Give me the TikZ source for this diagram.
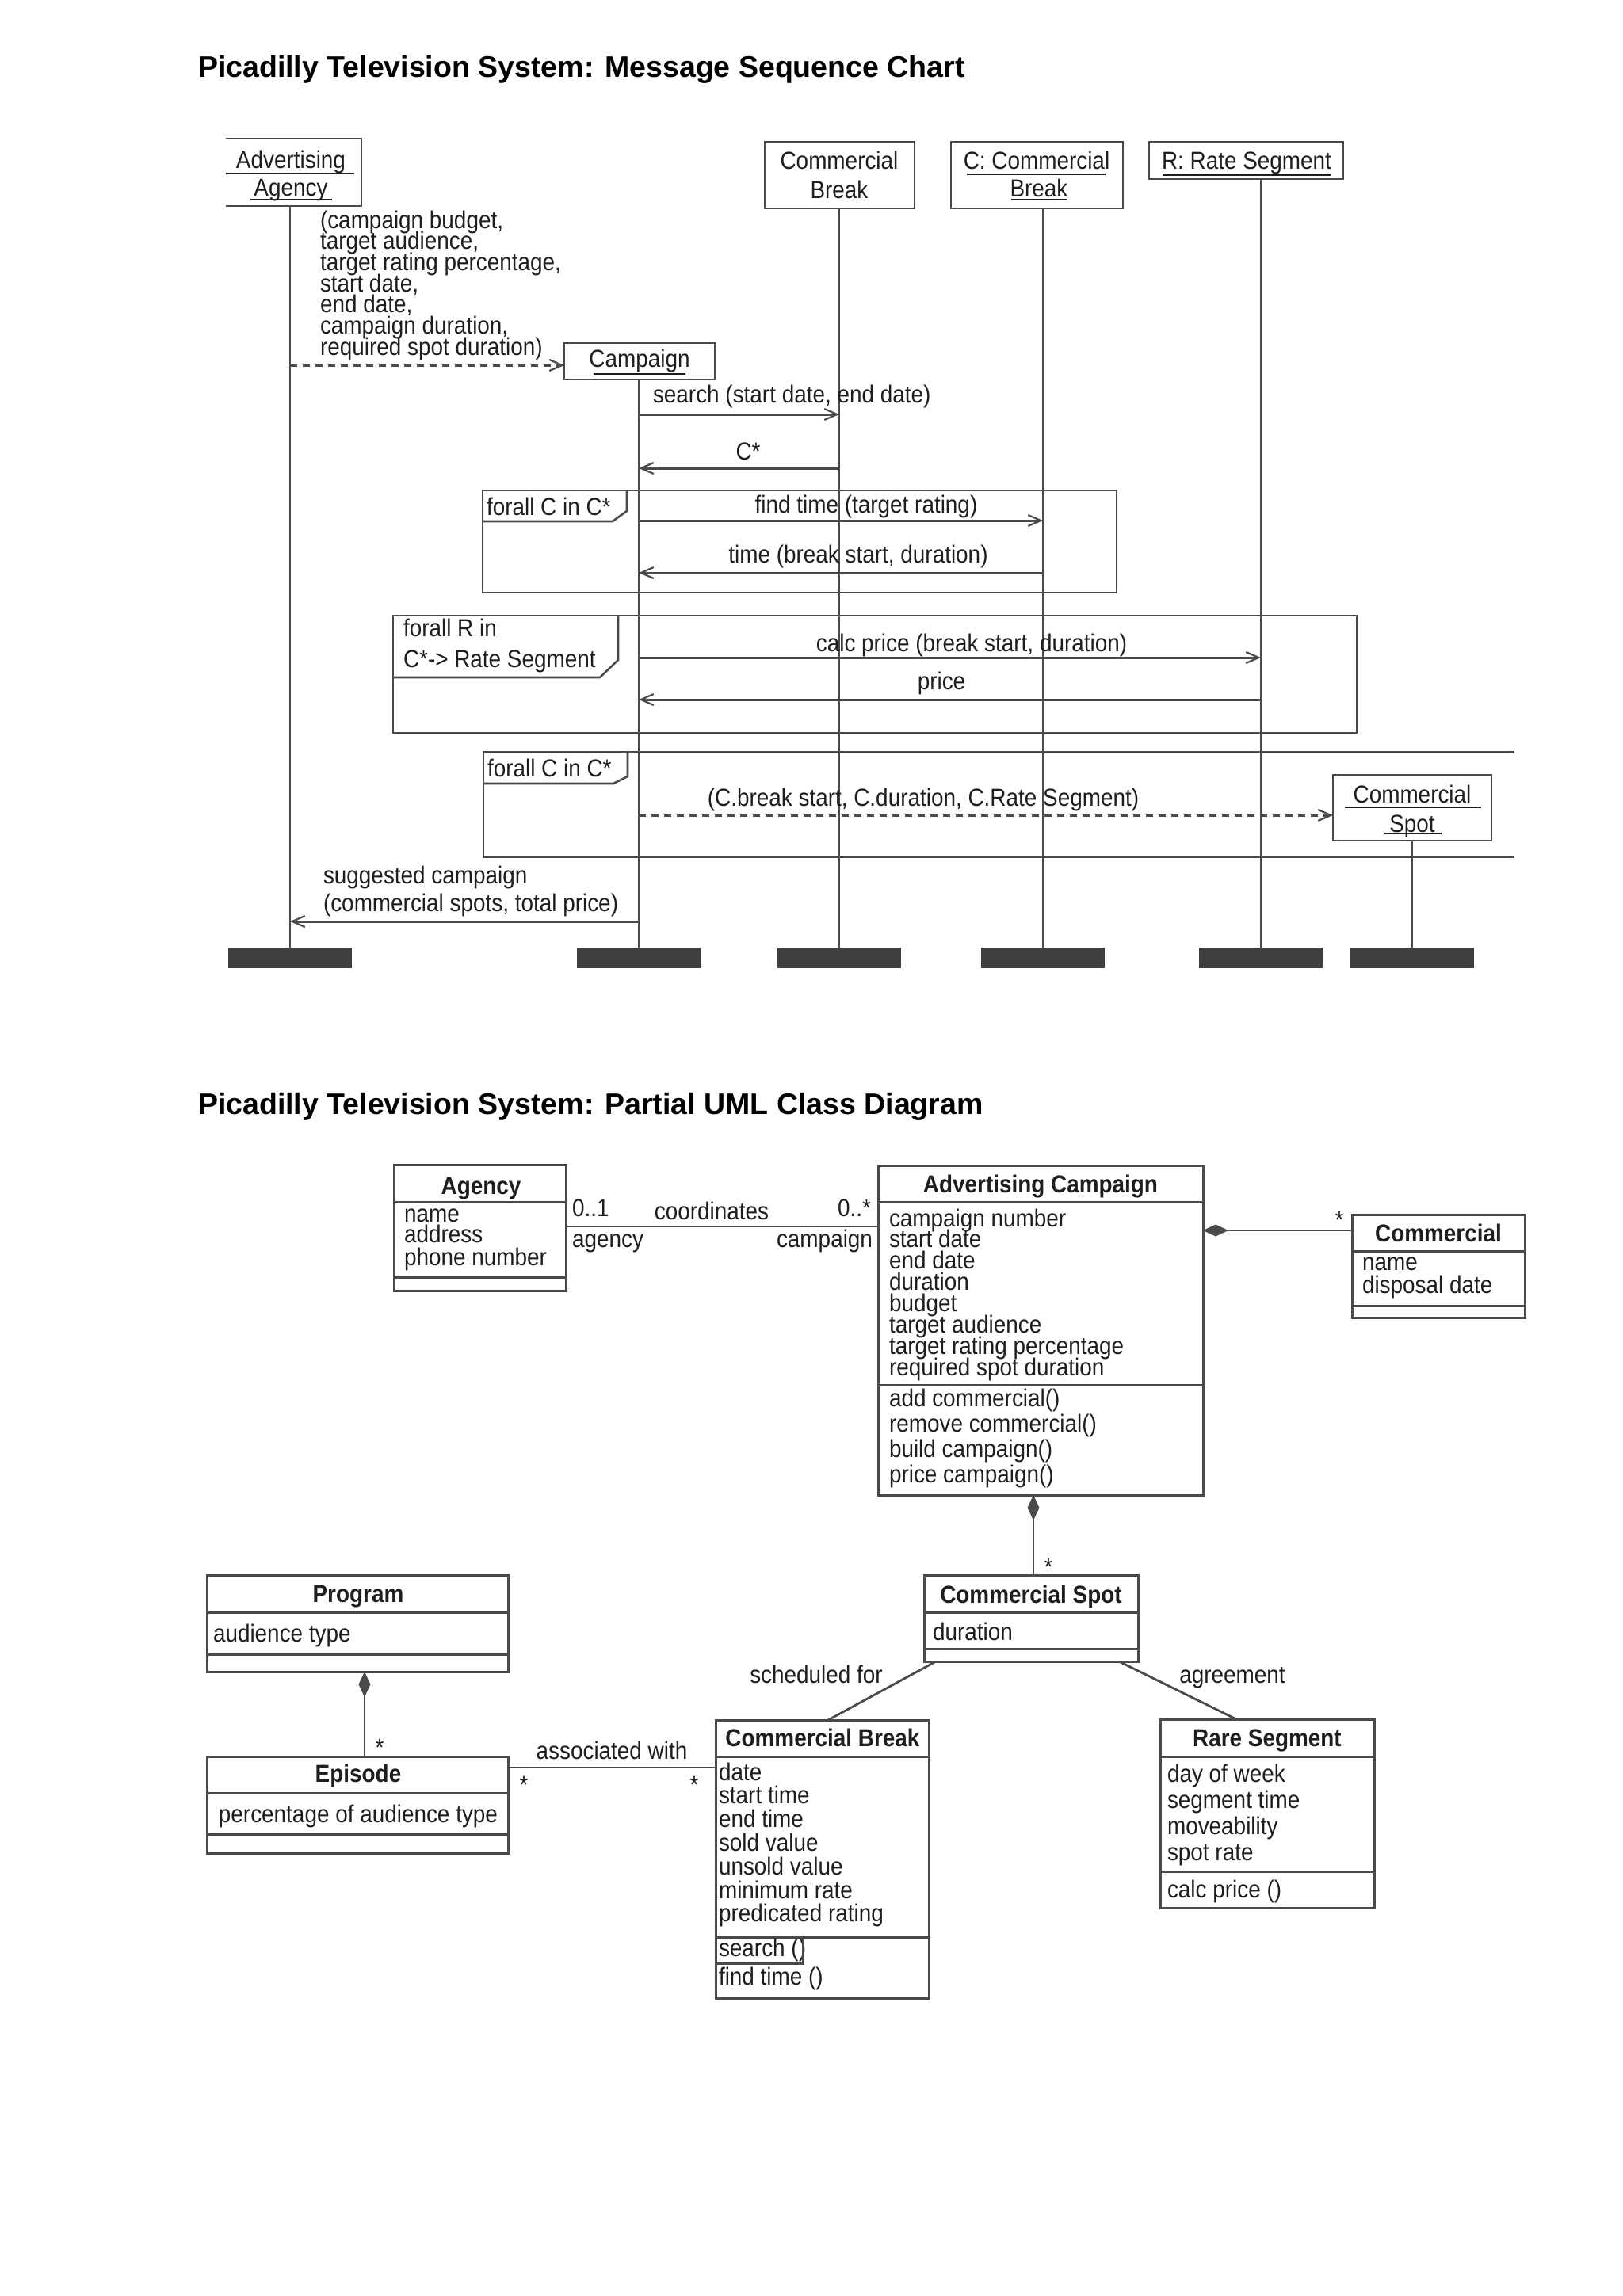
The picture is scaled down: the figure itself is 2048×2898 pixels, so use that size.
\documentclass[tikz,border=0pt]{standalone}
\usepackage{fontspec}
\setmainfont{Liberation Sans}
\newfontfamily\narrowfont[FakeStretch=0.9]{Liberation Sans}
\usetikzlibrary{arrows.meta,fit}
\definecolor{lc}{HTML}{4A4A4A}
\definecolor{txc}{HTML}{1E1E1E}
\definecolor{barc}{HTML}{3E3E3E}
\newcommand\seqfont{\narrowfont\fontsize{15.5pt}{15.5pt}\selectfont}
\newcommand\ttlfont{\fontsize{18.75pt}{20pt}\selectfont\bfseries}
\begin{document}
\begin{tikzpicture}[x=0.5pt,y=-0.5pt,
  tw/.style={inner sep=0pt,outer sep=0pt,font=\seqfont,text=txc,anchor=base west},
  tm/.style={inner sep=0pt,outer sep=0pt,font=\seqfont,text=txc,anchor=base},
  te/.style={inner sep=0pt,outer sep=0pt,font=\seqfont,text=txc,anchor=base east},
  tb/.style={tm,font=\seqfont\bfseries},
  star/.style={inner sep=0pt,outer sep=0pt,font=\seqfont,text=txc,anchor=center},
  ttl/.style={inner sep=0pt,outer sep=0pt,font=\ttlfont,text=black,anchor=base west},
  hbox/.style={draw=lc,line width=1.3pt,inner sep=0pt,outer sep=0pt},
  ghost/.style={inner sep=0pt,outer sep=0pt},
  frm/.style={draw=lc,line width=1.3pt},
  ul/.style={draw=txc,line width=1.1pt},
  life/.style={draw=lc,line width=0.9pt},
  msg/.style={draw=lc,line width=1.5pt,-{Straight Barb[length=8pt,width=7pt,line width=1.1pt]}},
  dmsg/.style={msg,dash pattern=on 4.5pt off 3.5pt},
  barbox/.style={fill=barc,inner sep=0pt,outer sep=0pt},
  cls/.style={draw=lc,line width=1.5pt,inner sep=0pt,outer sep=0pt},
  sep/.style={draw=lc,line width=1.5pt},
  assoc/.style={draw=lc,line width=1.4pt},
  comp/.style={assoc,{Diamond[length=16pt,width=7.5pt]}-}
]
\useasboundingbox (0,0) rectangle (2048,2898);
\fill[white] (0,0) rectangle (2048,2898);

% ---------------- titles
\node[ttl] (title1) at (250,97) {Picadilly Television System: Message Sequence Chart};
\node[ttl] (title2) at (250,1406) {Picadilly Television System: Partial UML Class Diagram};

% ---------------- sequence chart: heads
\node[ghost,fit={(285,175)(456,260)}] (hAg) {};
\draw[frm] (hAg.north west) -- (hAg.north east) -- (hAg.south east) -- (hAg.south west);
\node[tm] (hAg1) at (367,212) {Advertising};
\draw[ul] (285,219) -- (447,219);
\node[tm] (hAg2) at (367,247) {Agency};
\draw[ul] (316,252) -- (419,252);

\node[hbox,fit={(965,179)(1154,263)}] (hCB) {};
\node[tm] (hCB1) at (1059,213) {Commercial};
\node[tm] (hCB2) at (1059,250) {Break};

\node[hbox,fit={(1200,179)(1417,263)}] (hCC) {};
\node[tm] (hCC1) at (1308,213) {C: Commercial};
\draw[ul] (1220,220) -- (1395,220);
\node[tm] (hCC2) at (1311,248) {Break};
\draw[ul] (1276,252) -- (1347,252);

\node[hbox,fit={(1450,179)(1695,226)}] (hR) {};
\node[tm] (hR1) at (1573,213) {R: Rate Segment};
\draw[ul] (1468,221) -- (1679,221);

\node[hbox,fit={(712,433)(902,479)}] (hCamp) {};
\node[tm] (hCamp1) at (807,463) {Campaign};
\draw[ul] (749,472) -- (865,472);

\node[hbox,fit={(1682,978)(1882,1061)}] (hSp) {};
\node[tm] (hSp1) at (1782,1013) {Commercial};
\draw[ul] (1697,1019) -- (1869,1019);
\node[tm] (hSp2) at (1782,1050) {Spot};
\draw[ul] (1747,1052) -- (1819,1052);

% ---------------- end bars
\node[barbox,fit={(288,1196)(444,1222)}] (bAg) {};
\node[barbox,fit={(728,1196)(884,1222)}] (bCamp) {};
\node[barbox,fit={(981,1196)(1137,1222)}] (bCB) {};
\node[barbox,fit={(1238,1196)(1394,1222)}] (bCC) {};
\node[barbox,fit={(1513,1196)(1669,1222)}] (bR) {};
\node[barbox,fit={(1704,1196)(1860,1222)}] (bSp) {};

% ---------------- lifelines
\draw[life] (bAg.north) -- (bAg.north |- hAg.south);
\draw[life] (bCamp.north) -- (bCamp.north |- hCamp.south);
\draw[life] (bCB.north) -- (bCB.north |- hCB.south);
\draw[life] (bCC.north) -- (bCC.north |- hCC.south);
\draw[life] (bR.north) -- (bR.north |- hR.south);
\draw[life] (bSp.north) -- (bSp.north |- hSp.south);

% ---------------- frames
\node[hbox,fit={(609,619)(1409,748)}] (fr1) {};
\draw[frm] (609,658) -- (773,658) -- (791,645) -- (791,619);
\node[tw] (fr1l) at (614,650) {forall C in C*};

\node[hbox,fit={(496,777)(1712,925)}] (fr2) {};
\draw[frm] (496,855) -- (757,855) -- (780,833) -- (780,777);
\node[tw] (fr2l1) at (509,803) {forall R in};
\node[tw] (fr2l2) at (509,842) {C*-> Rate Segment};

\draw[frm] (1911,949) -- (610,949) -- (610,1082) -- (1911,1082);
\draw[frm] (610,989) -- (774,989) -- (792,980) -- (792,949);
\node[tw] (fr3l) at (615,980) {forall C in C*};

% ---------------- messages
\draw[dmsg] (bAg.north |- 0,461) -- (hCamp.west |- 0,461);
\foreach \s [count=\i] in {{(campaign budget,},{target audience,},{target rating percentage,},{start date,},{end date,},{campaign duration,},{required spot duration)}}
  \node[tw] (par\i) at (404,{288+26.67*(\i-1)}) {\s};

\draw[msg] (bCamp.north |- 0,523) -- (bCB.north |- 0,523);
\node[tw] (m1l) at (824,508) {search (start date, end date)};

\draw[msg] (bCB.north |- 0,591) -- (bCamp.north |- 0,591);
\node[tm] (m2l) at (944,580) {C*};

\draw[msg] (bCamp.north |- 0,657) -- (bCC.north |- 0,657);
\node[tm] (m3l) at (1093,647) {find time (target rating)};

\draw[msg] (bCC.north |- 0,723) -- (bCamp.north |- 0,723);
\node[tm] (m4l) at (1083,710) {time (break start, duration)};

\draw[msg] (bCamp.north |- 0,830) -- (bR.north |- 0,830);
\node[tm] (m5l) at (1226,822) {calc price (break start, duration)};

\draw[msg] (bR.north |- 0,883) -- (bCamp.north |- 0,883);
\node[tm] (m6l) at (1188,870) {price};

\draw[dmsg] (bCamp.north |- 0,1029) -- (hSp.west |- 0,1029);
\node[tm] (m7l) at (1165,1017) {(C.break start, C.duration, C.Rate Segment)};

\draw[msg] (bCamp.north |- 0,1163) -- (bAg.north |- 0,1163);
\node[tw] (m8l1) at (408,1115) {suggested campaign};
\node[tw] (m8l2) at (408,1150) {(commercial spots, total price)};

% ---------------- class diagram
% Agency
\node[cls,fit={(497,1470)(714,1629)}] (agC) {};
\draw[sep] (agC.west |- 0,1517) -- (agC.east |- 0,1517);
\draw[sep] (agC.west |- 0,1612) -- (agC.east |- 0,1612);
\node[tb] (agT) at (607,1507) {Agency};
\node[tw] (ag1) at (510,1542) {name};
\node[tw] (ag2) at (510,1568) {address};
\node[tw] (ag3) at (510,1597) {phone number};

% Advertising Campaign
\node[cls,fit={(1108,1471)(1518,1887)}] (acC) {};
\draw[sep] (acC.west |- 0,1517) -- (acC.east |- 0,1517);
\draw[sep] (acC.west |- 0,1748) -- (acC.east |- 0,1748);
\node[tb] (acT) at (1313,1505) {Advertising Campaign};
\foreach \s [count=\i] in {campaign number,start date,end date,duration,budget,target audience,target rating percentage,required spot duration}
  \node[tw] (aca\i) at (1122,{1548+26.9*(\i-1)}) {\s};
\foreach \s [count=\i] in {add commercial(),remove commercial(),build campaign(),price campaign()}
  \node[tw] (acm\i) at (1122,{1775+32.3*(\i-1)}) {\s};

% Commercial
\node[cls,fit={(1706,1533)(1924,1663)}] (coC) {};
\draw[sep] (coC.west |- 0,1579) -- (coC.east |- 0,1579);
\draw[sep] (coC.west |- 0,1648) -- (coC.east |- 0,1648);
\node[tb] (coT) at (1815,1567) {Commercial};
\node[tw] (co1) at (1719,1603) {name};
\node[tw] (co2) at (1719,1632) {disposal date};

% Commercial Spot
\node[cls,fit={(1166,1988)(1436,2097)}] (csC) {};
\draw[sep] (csC.west |- 0,2035) -- (csC.east |- 0,2035);
\draw[sep] (csC.west |- 0,2081) -- (csC.east |- 0,2081);
\node[tb] (csT) at (1301,2023) {Commercial Spot};
\node[tw] (cs1) at (1177,2070) {duration};

% Rare Segment
\node[cls,fit={(1464,2170)(1734,2408)}] (rsC) {};
\draw[sep] (rsC.west |- 0,2217) -- (rsC.east |- 0,2217);
\draw[sep] (rsC.west |- 0,2362) -- (rsC.east |- 0,2362);
\node[tb] (rsT) at (1599,2204) {Rare Segment};
\foreach \s [count=\i] in {day of week,segment time,moveability,spot rate}
  \node[tw] (rsa\i) at (1473,{2249+33*(\i-1)}) {\s};
\node[tw] (rsm1) at (1473,2395) {calc price ()};

% Program
\node[cls,fit={(261,1988)(641,2110)}] (prC) {};
\draw[sep] (prC.west |- 0,2035) -- (prC.east |- 0,2035);
\draw[sep] (prC.west |- 0,2088) -- (prC.east |- 0,2088);
\node[tb] (prT) at (452,2022) {Program};
\node[tw] (pr1) at (269,2072) {audience type};

% Episode
\node[cls,fit={(261,2217)(641,2339)}] (epC) {};
\draw[sep] (epC.west |- 0,2263) -- (epC.east |- 0,2263);
\draw[sep] (epC.west |- 0,2315) -- (epC.east |- 0,2315);
\node[tb] (epT) at (452,2249) {Episode};
\node[tm] (ep1) at (452,2300) {percentage of audience type};

% Commercial Break
\node[cls,fit={(903,2171)(1172,2522)}] (cbC) {};
\draw[sep] (cbC.west |- 0,2217) -- (cbC.east |- 0,2217);
\draw[sep] (cbC.west |- 0,2445) -- (cbC.east |- 0,2445);
\node[tb] (cbT) at (1038,2204) {Commercial Break};
\foreach \s [count=\i] in {date,start time,end time,sold value,unsold value,minimum rate,predicated rating}
  \node[tw] (cba\i) at (907,{2247+29.8*(\i-1)}) {\s};
\node[tw] (cbm1) at (907,2469) {search ()};
\draw[sep] (1013,2445) -- (1013,2478) -- (cbC.west |- 0,2478);
\node[tw] (cbm2) at (907,2505) {find time ()};

% ---------------- class connectors
\draw[assoc] (agC.east |- 0,1548) -- (acC.west |- 0,1548);
\node[tw] (l01) at (722,1535) {0..1};
\node[tm] (lcoord) at (898,1539) {coordinates};
\node[te] (l0s) at (1099,1535) {0..*};
\node[tw] (lag) at (722,1574) {agency};
\node[te] (lcamp) at (1101,1574) {campaign};

\draw[comp] (acC.east |- 0,1553) -- (coC.west |- 0,1553);
\node[star] (s1) at (1690,1540) {*};

\draw[comp] (acC.south -| 1304,0) -- (csC.north -| 1304,0);
\node[star] (s2) at (1323,1978) {*};

\draw[assoc] (csC.south -| 1181,0) -- (cbC.north -| 1045,0);
\node[tm] (lsched) at (1030,2124) {scheduled for};

\draw[assoc] (csC.south -| 1412,0) -- (rsC.north -| 1560,0);
\node[tm] (lagree) at (1555,2124) {agreement};

\draw[comp] (prC.south -| 460,0) -- (epC.north -| 460,0);
\node[star] (s3) at (479,2206) {*};

\draw[assoc] (epC.east |- 0,2231) -- (cbC.west |- 0,2231);
\node[tm] (lassoc) at (772,2220) {associated with};
\node[star] (s4) at (661,2253) {*};
\node[star] (s5) at (876,2253) {*};
\end{tikzpicture}
\end{document}
